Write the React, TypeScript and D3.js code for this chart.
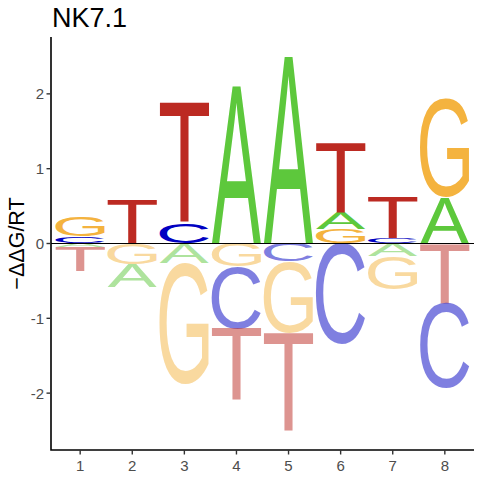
import { useEffect, useRef } from "react";
import * as d3 from "d3";

// energy logo values (-ddG/RT) per base and position
const POSITIONS = [1, 2, 3, 4, 5, 6, 7, 8];
const BASES = ["A", "C", "G", "T"];
const DDG_A = [-0.05, -0.3, -0.26, 2.1, 2.5, 0.22, -0.17, 0.62];
const DDG_C = [0.09, 0, 0.27, -0.83, -0.24, -1.35, 0.06, -1.14];
const DDG_G = [0.27, -0.28, -1.62, -0.31, -0.95, 0.19, -0.44, 1.32];
const DDG_T = [-0.32, 0.58, 1.61, -0.97, -1.32, 0.93, 0.56, -0.8];
const Y_TICKS = [-2, -1, 0, 1, 2];
const TITLE = "NK7.1";
const Y_LABEL = "−ΔΔG/RT";

const BASE_COLORS: Record<string, string> = {
  A: "#5DC83C",
  C: "#0000C2",
  G: "#F4B33F",
  T: "#BC2A22",
};

const FONT = "'Liberation Sans', Arial, sans-serif";

// ink bounds of a glyph at 100px, so it can be stretched into its box
const measureGlyph = (letter: string) => {
  const ctx = document.createElement("canvas").getContext("2d")!;
  ctx.font = "100px 'Liberation Sans'";
  const m = ctx.measureText(letter);
  return {
    left: m.actualBoundingBoxLeft,
    right: m.actualBoundingBoxRight,
    ascent: m.actualBoundingBoxAscent,
    descent: m.actualBoundingBoxDescent,
  };
};

const App = () => {
  const svgRef = useRef<SVGSVGElement>(null);

  useEffect(() => {
    if (!svgRef.current) return;
    const width = 480;
    const height = 480;
    const margin = { top: 37, right: 6, bottom: 30, left: 51 };

    const svg = d3.select(svgRef.current);
    svg.selectAll("*").remove();
    svg.attr("width", width).attr("height", height);

    const x = d3
      .scaleLinear()
      .domain([0.44, 8.56])
      .range([margin.left, width - margin.right]);
    const y = d3
      .scaleLinear()
      .domain([-2.76, 2.76])
      .range([height - margin.bottom, margin.top]);

    const table: Record<string, number[]> = { A: DDG_A, C: DDG_C, G: DDG_G, T: DDG_T };
    const glyphs: Record<string, ReturnType<typeof measureGlyph>> = {};
    BASES.forEach((b) => (glyphs[b] = measureGlyph(b)));

    // stack letters: smallest magnitude closest to zero
    const boxes: { base: string; pos: number; y0: number; y1: number; neg: boolean }[] = [];
    POSITIONS.forEach((pos, i) => {
      const vals = BASES.map((b) => ({ base: b, v: table[b][i] }));
      let acc = 0;
      vals
        .filter((d) => d.v > 0)
        .sort((a, b) => a.v - b.v)
        .forEach((d) => {
          boxes.push({ base: d.base, pos, y0: acc, y1: acc + d.v, neg: false });
          acc += d.v;
        });
      acc = 0;
      vals
        .filter((d) => d.v < 0)
        .sort((a, b) => b.v - a.v)
        .forEach((d) => {
          boxes.push({ base: d.base, pos, y0: acc + d.v, y1: acc, neg: true });
          acc += d.v;
        });
    });

    const halfWidth = 0.475;
    svg
      .append("g")
      .selectAll("text")
      .data(boxes)
      .join("text")
      .attr("font-family", FONT)
      .attr("font-size", 100)
      .attr("fill", (d) => BASE_COLORS[d.base])
      .attr("fill-opacity", (d) => (d.neg ? 0.5 : 1))
      .attr("transform", (d) => {
        const g = glyphs[d.base];
        const px0 = x(d.pos - halfWidth);
        const px1 = x(d.pos + halfWidth);
        const top = y(d.y1);
        const bottom = y(d.y0);
        const sx = (px1 - px0) / (g.left + g.right);
        const sy = (bottom - top) / (g.ascent + g.descent);
        return `translate(${px0},${top}) scale(${sx},${sy}) translate(${g.left},${g.ascent})`;
      })
      .text((d) => d.base);

    // zero line
    svg
      .append("line")
      .attr("x1", margin.left)
      .attr("x2", width - margin.right)
      .attr("y1", y(0))
      .attr("y2", y(0))
      .attr("stroke", "#000")
      .attr("stroke-width", 1.1);

    // axes
    const axisColor = "#000";
    svg
      .append("path")
      .attr(
        "d",
        `M${margin.left},${margin.top}V${height - margin.bottom}H${width - margin.right}`
      )
      .attr("fill", "none")
      .attr("stroke", axisColor)
      .attr("stroke-width", 1.6);

    const yt = svg.append("g");
    Y_TICKS.forEach((t) => {
      yt.append("line")
        .attr("x1", margin.left - 4.5)
        .attr("x2", margin.left)
        .attr("y1", y(t))
        .attr("y2", y(t))
        .attr("stroke", "#333")
        .attr("stroke-width", 1.4);
      yt.append("text")
        .attr("x", margin.left - 7)
        .attr("y", y(t))
        .attr("dy", "0.36em")
        .attr("text-anchor", "end")
        .attr("font-family", FONT)
        .attr("font-size", 15)
        .attr("fill", "#4D4D4D")
        .text(String(t));
    });

    const xt = svg.append("g");
    POSITIONS.forEach((p) => {
      xt.append("line")
        .attr("x1", x(p))
        .attr("x2", x(p))
        .attr("y1", height - margin.bottom)
        .attr("y2", height - margin.bottom + 4.5)
        .attr("stroke", "#333")
        .attr("stroke-width", 1.4);
      xt.append("text")
        .attr("x", x(p))
        .attr("y", height - margin.bottom + 21)
        .attr("text-anchor", "middle")
        .attr("font-family", FONT)
        .attr("font-size", 15)
        .attr("fill", "#4D4D4D")
        .text(String(p));
    });

    // title and axis label
    svg
      .append("text")
      .attr("x", 52)
      .attr("y", 27)
      .attr("font-family", FONT)
      .attr("font-size", 27)
      .attr("fill", "#000")
      .text(TITLE);

    svg
      .append("text")
      .attr("transform", `translate(24,${(margin.top + height - margin.bottom) / 2}) rotate(-90)`)
      .attr("text-anchor", "middle")
      .attr("font-family", FONT)
      .attr("font-size", 21.5)
      .attr("fill", "#000")
      .text(Y_LABEL);
  }, []);

  return (
    <div style={{ position: "absolute", left: 0, top: 0, background: "#fff" }}>
      <svg ref={svgRef} />
    </div>
  );
};

export default App;
